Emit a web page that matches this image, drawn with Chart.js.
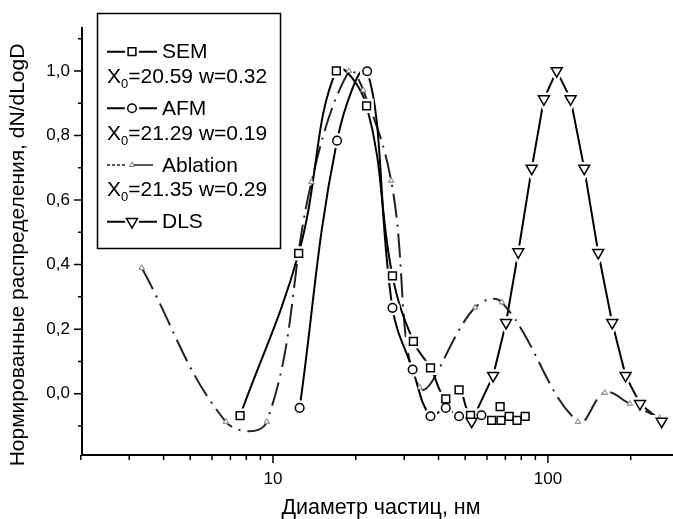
<!DOCTYPE html>
<html>
<head>
<meta charset="utf-8">
<script src="https://cdn.jsdelivr.net/npm/chart.js@4.4.0/dist/chart.umd.min.js"></script>
<style>
  html, body { margin: 0; padding: 0; background: #fff; }
  #wrap { width: 673px; height: 519px; }
</style>
</head>
<body>
<div id="wrap"><canvas id="chart" width="673" height="519"></canvas></div>
<script>
// values (x in nm, y normalised)
const semX = [7.59, 12.4, 17.0, 21.9, 27.2, 32.4, 37.4, 42.5, 47.5, 52.3, 62.4, 67.0, 67.5, 72.3, 77.2, 82.6];
const semY = [-0.068, 0.435, 1.0, 0.892, 0.365, 0.162, 0.08, -0.016, 0.012, -0.067, -0.083, -0.04, -0.083, -0.07, -0.083, -0.07];

const afmX = [12.5, 17.1, 22.0, 27.2, 32.2, 37.4, 42.5, 47.5, 57.3];
const afmY = [-0.044, 0.784, 0.999, 0.266, 0.075, -0.07, -0.044, -0.07, -0.067];

const ablX = [3.33, 6.74, 9.49, 13.8, 18.9, 21.3, 26.9, 34.2, 54.3, 68.0, 128.5, 161, 198.6, 255];
const ablY = [0.39, -0.087, -0.087, 0.656, 1.0, 0.94, 0.66, 0.019, 0.267, 0.283, -0.087, 0.003, -0.031, -0.075];

const dlsX = [52.8, 63.2, 70.4, 78.0, 87.3, 96.7, 107.6, 120.9, 135.5, 152.4, 171.3, 191.6, 216.1, 259.2];
const dlsY = [-0.086, 0.056, 0.22, 0.439, 0.698, 0.913, 1.0, 0.913, 0.698, 0.437, 0.22, 0.056, -0.031, -0.086];

const xTicks = [2, 3, 4, 5, 6, 7, 8, 9, 10, 20, 30, 40, 50, 60, 70, 80, 90, 100, 200];
const xLabels = [10, 100];
const yTicks = [-0.1, 0, 0.1, 0.2, 0.3, 0.4, 0.5, 0.6, 0.7, 0.8, 0.9, 1.0, 1.1];
const yLabels = [0, 0.2, 0.4, 0.6, 0.8, 1.0];

const seriesNames = ['SEM', 'AFM', 'Ablation', 'DLS'];
const fitX0 = ['20.59', '21.29', '21.35'];
const fitW = ['0.32', '0.19', '0.29'];

const xTitle = 'Диаметр частиц, нм';
const yTitle = 'Нормированные распределения, dN/dLogD';

const FONT = "'Liberation Sans', Arial, sans-serif";
const ABL_DASH = [24, 7, 2, 7];

const pts = (xs, ys) => xs.map((x, i) => ({ x: x, y: ys[i] }));
const isMajorY = v => yLabels.some(l => Math.abs(l - v) < 1e-6);

// white halo round the open markers so the lines stop short of them
const markerGaps = {
    id: 'markerGaps',
    afterDatasetsDraw(chart) {
        const ctx = chart.ctx;
        const metas = chart.data.datasets.map((ds, i) => chart.getDatasetMeta(i));
        ctx.save();
        metas.forEach((meta, i) => {
            if (!chart.data.datasets[i].halo) return;
            meta.data.forEach(el => {
                const o = el.options;
                ctx.lineWidth = o.borderWidth + 5;
                ctx.strokeStyle = '#fff';
                ctx.fillStyle = '#fff';
                Chart.helpers.drawPoint(ctx, {
                    pointStyle: o.pointStyle, radius: o.radius, rotation: o.rotation, borderWidth: ctx.lineWidth
                }, el.x, el.y);
            });
        });
        metas.forEach(meta => meta.data.forEach(el => el.draw(ctx, chart.chartArea)));
        ctx.restore();
    }
};

const extras = {
    id: 'extras',
    afterDraw(chart) {
        const ctx = chart.ctx;
        const sx = chart.scales.x, sy = chart.scales.y;
        const area = chart.chartArea;
        ctx.save();

        // tick marks, long for labelled ones
        ctx.strokeStyle = '#000';
        ctx.lineWidth = 1.5;
        ctx.beginPath();
        xTicks.forEach(v => {
            const px = sx.getPixelForValue(v);
            const len = xLabels.includes(v) ? 8 : 5;
            ctx.moveTo(px, area.bottom);
            ctx.lineTo(px, area.bottom + len);
        });
        yTicks.forEach(v => {
            const py = sy.getPixelForValue(v);
            const len = isMajorY(v) ? 8 : 4;
            ctx.moveTo(area.left, py);
            ctx.lineTo(area.left - len, py);
        });
        ctx.stroke();

        // axis titles
        ctx.fillStyle = '#000';
        ctx.textAlign = 'center';
        ctx.textBaseline = 'middle';
        ctx.font = `21.5px ${FONT}`;
        ctx.fillText(xTitle, 381, 508);
        ctx.save();
        ctx.translate(18, 255);
        ctx.rotate(-Math.PI / 2);
        ctx.font = `21px ${FONT}`;
        ctx.fillText(yTitle, 0, 0);
        ctx.restore();

        // legend box
        ctx.lineWidth = 1.5;
        ctx.strokeRect(97.5, 13.5, 183, 235);

        const rowY = [51.7, 108.3, 165, 221.7];
        const fitY = [76, 133.3, 189.3];
        const styles = [
            { pointStyle: 'rect', radius: 5.5, rotation: 0, borderWidth: 1.5 },
            { pointStyle: 'circle', radius: 4.3, rotation: 0, borderWidth: 1.5 },
            { pointStyle: 'triangle', radius: 3, rotation: 0, borderWidth: 1 },
            { pointStyle: 'triangle', radius: 6.3, rotation: 180, borderWidth: 1.5 }
        ];
        ctx.textAlign = 'left';
        seriesNames.forEach((name, i) => {
            const y = rowY[i];
            ctx.save();
            ctx.strokeStyle = i === 2 ? '#555' : '#000';
            ctx.lineWidth = 2;
            if (i === 2) ctx.setLineDash([3, 2, 3, 2, 3, 2, 3, 8, 20, 4]);
            ctx.beginPath();
            ctx.moveTo(107, y);
            ctx.lineTo(157, y);
            ctx.stroke();
            ctx.restore();
            if (i !== 2) {
                ctx.fillStyle = '#fff';
                ctx.strokeStyle = '#fff';
                ctx.lineWidth = 6;
                Chart.helpers.drawPoint(ctx, styles[i], 132, y);
            }
            ctx.fillStyle = '#fff';
            ctx.strokeStyle = i === 2 ? '#777' : '#000';
            ctx.lineWidth = styles[i].borderWidth;
            Chart.helpers.drawPoint(ctx, styles[i], 132, y);
            ctx.fillStyle = '#000';
            ctx.font = `21px ${FONT}`;
            ctx.fillText(name, 162, y + 1);
        });
        fitX0.forEach((x0, i) => {
            const y = fitY[i] + 1;
            let cx = 107;
            ctx.font = `21px ${FONT}`;
            ctx.fillText('X', cx, y);
            cx += ctx.measureText('X').width;
            ctx.font = `13px ${FONT}`;
            ctx.fillText('0', cx, y + 7);
            cx += ctx.measureText('0').width;
            ctx.font = `21px ${FONT}`;
            ctx.fillText(`=${x0} w=${fitW[i]}`, cx, y);
        });

        ctx.restore();
    }
};

const ctx = document.getElementById('chart').getContext('2d');
new Chart(ctx, {
    type: 'scatter',
    data: {
        datasets: [
            {
                label: 'SEM',
                data: pts(semX, semY),
                showLine: true,
                halo: true,
                tension: 0.4,
                borderColor: '#000',
                borderWidth: 2,
                pointStyle: 'rect',
                pointRadius: 5.5,
                pointBorderWidth: 1.5,
                pointBackgroundColor: '#fff',
                pointBorderColor: '#000'
            },
            {
                label: 'AFM',
                data: pts(afmX, afmY),
                showLine: true,
                halo: true,
                tension: 0.4,
                borderColor: '#000',
                borderWidth: 2,
                pointStyle: 'circle',
                pointRadius: 4.3,
                pointBorderWidth: 1.5,
                pointBackgroundColor: '#fff',
                pointBorderColor: '#000'
            },
            {
                label: 'Ablation',
                data: pts(ablX, ablY),
                showLine: true,
                tension: 0.4,
                borderColor: '#222',
                borderWidth: 2,
                borderDash: ABL_DASH,
                pointStyle: 'triangle',
                pointRadius: 3,
                pointBorderWidth: 1,
                pointBackgroundColor: '#fff',
                pointBorderColor: '#888'
            },
            {
                label: 'DLS',
                data: pts(dlsX, dlsY),
                showLine: true,
                halo: true,
                tension: 0,
                borderColor: '#000',
                borderWidth: 2,
                pointStyle: 'triangle',
                pointRotation: 180,
                pointRadius: 6.3,
                pointBorderWidth: 1.5,
                pointBackgroundColor: '#fff',
                pointBorderColor: '#000'
            }
        ]
    },
    options: {
        responsive: false,
        animation: false,
        layout: { autoPadding: false, padding: { top: 28, right: 0, left: 0, bottom: 0 } },
        plugins: {
            legend: { display: false },
            tooltip: { enabled: false }
        },
        scales: {
            x: {
                type: 'logarithmic',
                min: 2.02,
                max: 285,
                grid: { drawOnChartArea: false, drawTicks: false },
                border: { color: '#000', width: 2 },
                ticks: {
                    color: '#000',
                    font: { family: FONT, size: 17 },
                    padding: 14,
                    autoSkip: false,
                    maxRotation: 0,
                    callback: v => xLabels.includes(v) ? String(v) : ''
                },
                afterBuildTicks: s => { s.ticks = xTicks.map(v => ({ value: v })); },
                afterFit: s => { s.height = 64; s.paddingLeft = 0; s.paddingRight = 0; }
            },
            y: {
                min: -0.19,
                max: 1.133,
                grid: { drawOnChartArea: false, drawTicks: false },
                border: { color: '#000', width: 2 },
                ticks: {
                    color: '#000',
                    font: { family: FONT, size: 17 },
                    padding: 12,
                    autoSkip: false,
                    callback: v => isMajorY(v) ? v.toFixed(1).replace('.', ',') : ''
                },
                afterBuildTicks: s => { s.ticks = yTicks.map(v => ({ value: v })); },
                afterFit: s => { s.width = 82; s.paddingTop = 0; s.paddingBottom = 0; }
            }
        }
    },
    plugins: [markerGaps, extras]
});
</script>
</body>
</html>
